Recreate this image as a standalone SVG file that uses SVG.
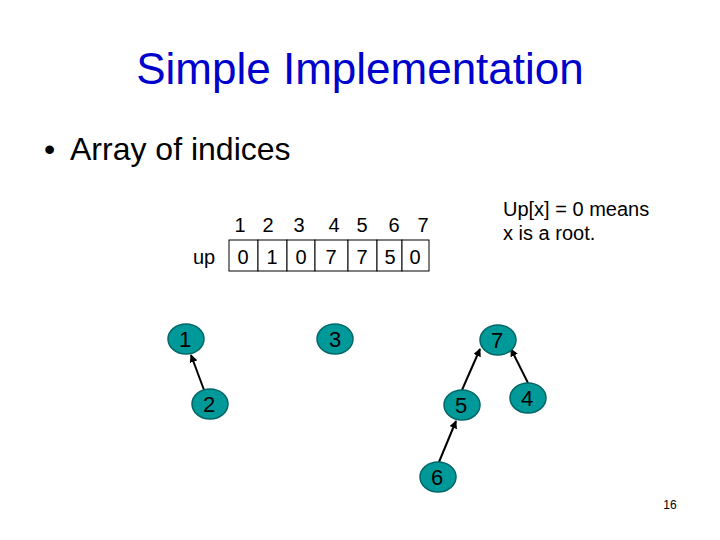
<svg xmlns="http://www.w3.org/2000/svg" width="720" height="540" viewBox="0 0 720 540">
<style>
text{font-family:"Liberation Sans",Arial,sans-serif;fill:#000}
.node ellipse{fill:#009999;stroke:#006666;stroke-width:1.5}
.node text{font-size:22px;text-anchor:middle}
.cell{fill:#fff;stroke:#000;stroke-width:1}
.tbl{font-size:20px;text-anchor:middle}
.edge{stroke:#000;stroke-width:2;fill:none;marker-end:url(#ah)}
</style>
<defs>
<marker id="ah" viewBox="0 0 10 10" refX="9" refY="5" markerWidth="4" markerHeight="4" orient="auto" markerUnits="strokeWidth">
<path d="M0,0L10,5L0,10z" fill="#000"/>
</marker>
</defs>
<rect width="720" height="540" fill="#fff"/>
<text x="360" y="84" font-size="44" text-anchor="middle" style="fill:#0000cc">Simple Implementation</text>
<text x="44" y="160" font-size="32">•</text>
<text x="70" y="160" font-size="32">Array of indices</text>
<text x="503" y="216" font-size="20">Up[x] = 0 means</text>
<text x="503" y="240" font-size="20">x is a root.</text>
<g id="table">
<text x="204" y="264" class="tbl">up</text>
<rect class="cell" x="229" y="240" width="29" height="31"/>
<rect class="cell" x="258" y="240" width="29" height="31"/>
<rect class="cell" x="287" y="240" width="28" height="31"/>
<rect class="cell" x="315" y="240" width="33" height="31"/>
<rect class="cell" x="348" y="240" width="29" height="31"/>
<rect class="cell" x="377" y="240" width="25" height="31"/>
<rect class="cell" x="402" y="240" width="27" height="31"/>
<text class="tbl" x="240" y="232">1</text>
<text class="tbl" x="268" y="232">2</text>
<text class="tbl" x="299" y="232">3</text>
<text class="tbl" x="334" y="232">4</text>
<text class="tbl" x="362" y="232">5</text>
<text class="tbl" x="394" y="232">6</text>
<text class="tbl" x="423" y="232">7</text>
<text class="tbl" x="243" y="264">0</text>
<text class="tbl" x="272" y="264">1</text>
<text class="tbl" x="301" y="264">0</text>
<text class="tbl" x="331" y="264">7</text>
<text class="tbl" x="362" y="264">7</text>
<text class="tbl" x="390" y="264">5</text>
<text class="tbl" x="415" y="264">0</text>
</g>
<g id="connectors">
<line class="edge" x1="204" y1="390" x2="191" y2="355"/>
<line class="edge" x1="462" y1="390" x2="480" y2="349"/>
<line class="edge" x1="528" y1="383" x2="511" y2="349"/>
<line class="edge" x1="439" y1="462" x2="456" y2="421"/>
</g>
<g id="n1" class="node"><ellipse cx="186" cy="339" rx="18" ry="15"/><text x="185" y="347">1</text></g>
<g id="n3" class="node"><ellipse cx="335" cy="339" rx="18" ry="15"/><text x="335" y="347">3</text></g>
<g id="n2" class="node"><ellipse cx="210" cy="404" rx="18" ry="15"/><text x="209" y="412">2</text></g>
<g id="n7" class="node"><ellipse cx="498" cy="340" rx="18" ry="15"/><text x="497" y="348">7</text></g>
<g id="n5" class="node"><ellipse cx="462" cy="405" rx="18" ry="15"/><text x="461" y="413">5</text></g>
<g id="n4" class="node"><ellipse cx="528" cy="398" rx="18" ry="15"/><text x="527" y="406">4</text></g>
<g id="n6" class="node"><ellipse cx="438" cy="477" rx="18" ry="15"/><text x="437" y="485">6</text></g>
<text x="670" y="509" font-size="12" text-anchor="middle">16</text>
</svg>
